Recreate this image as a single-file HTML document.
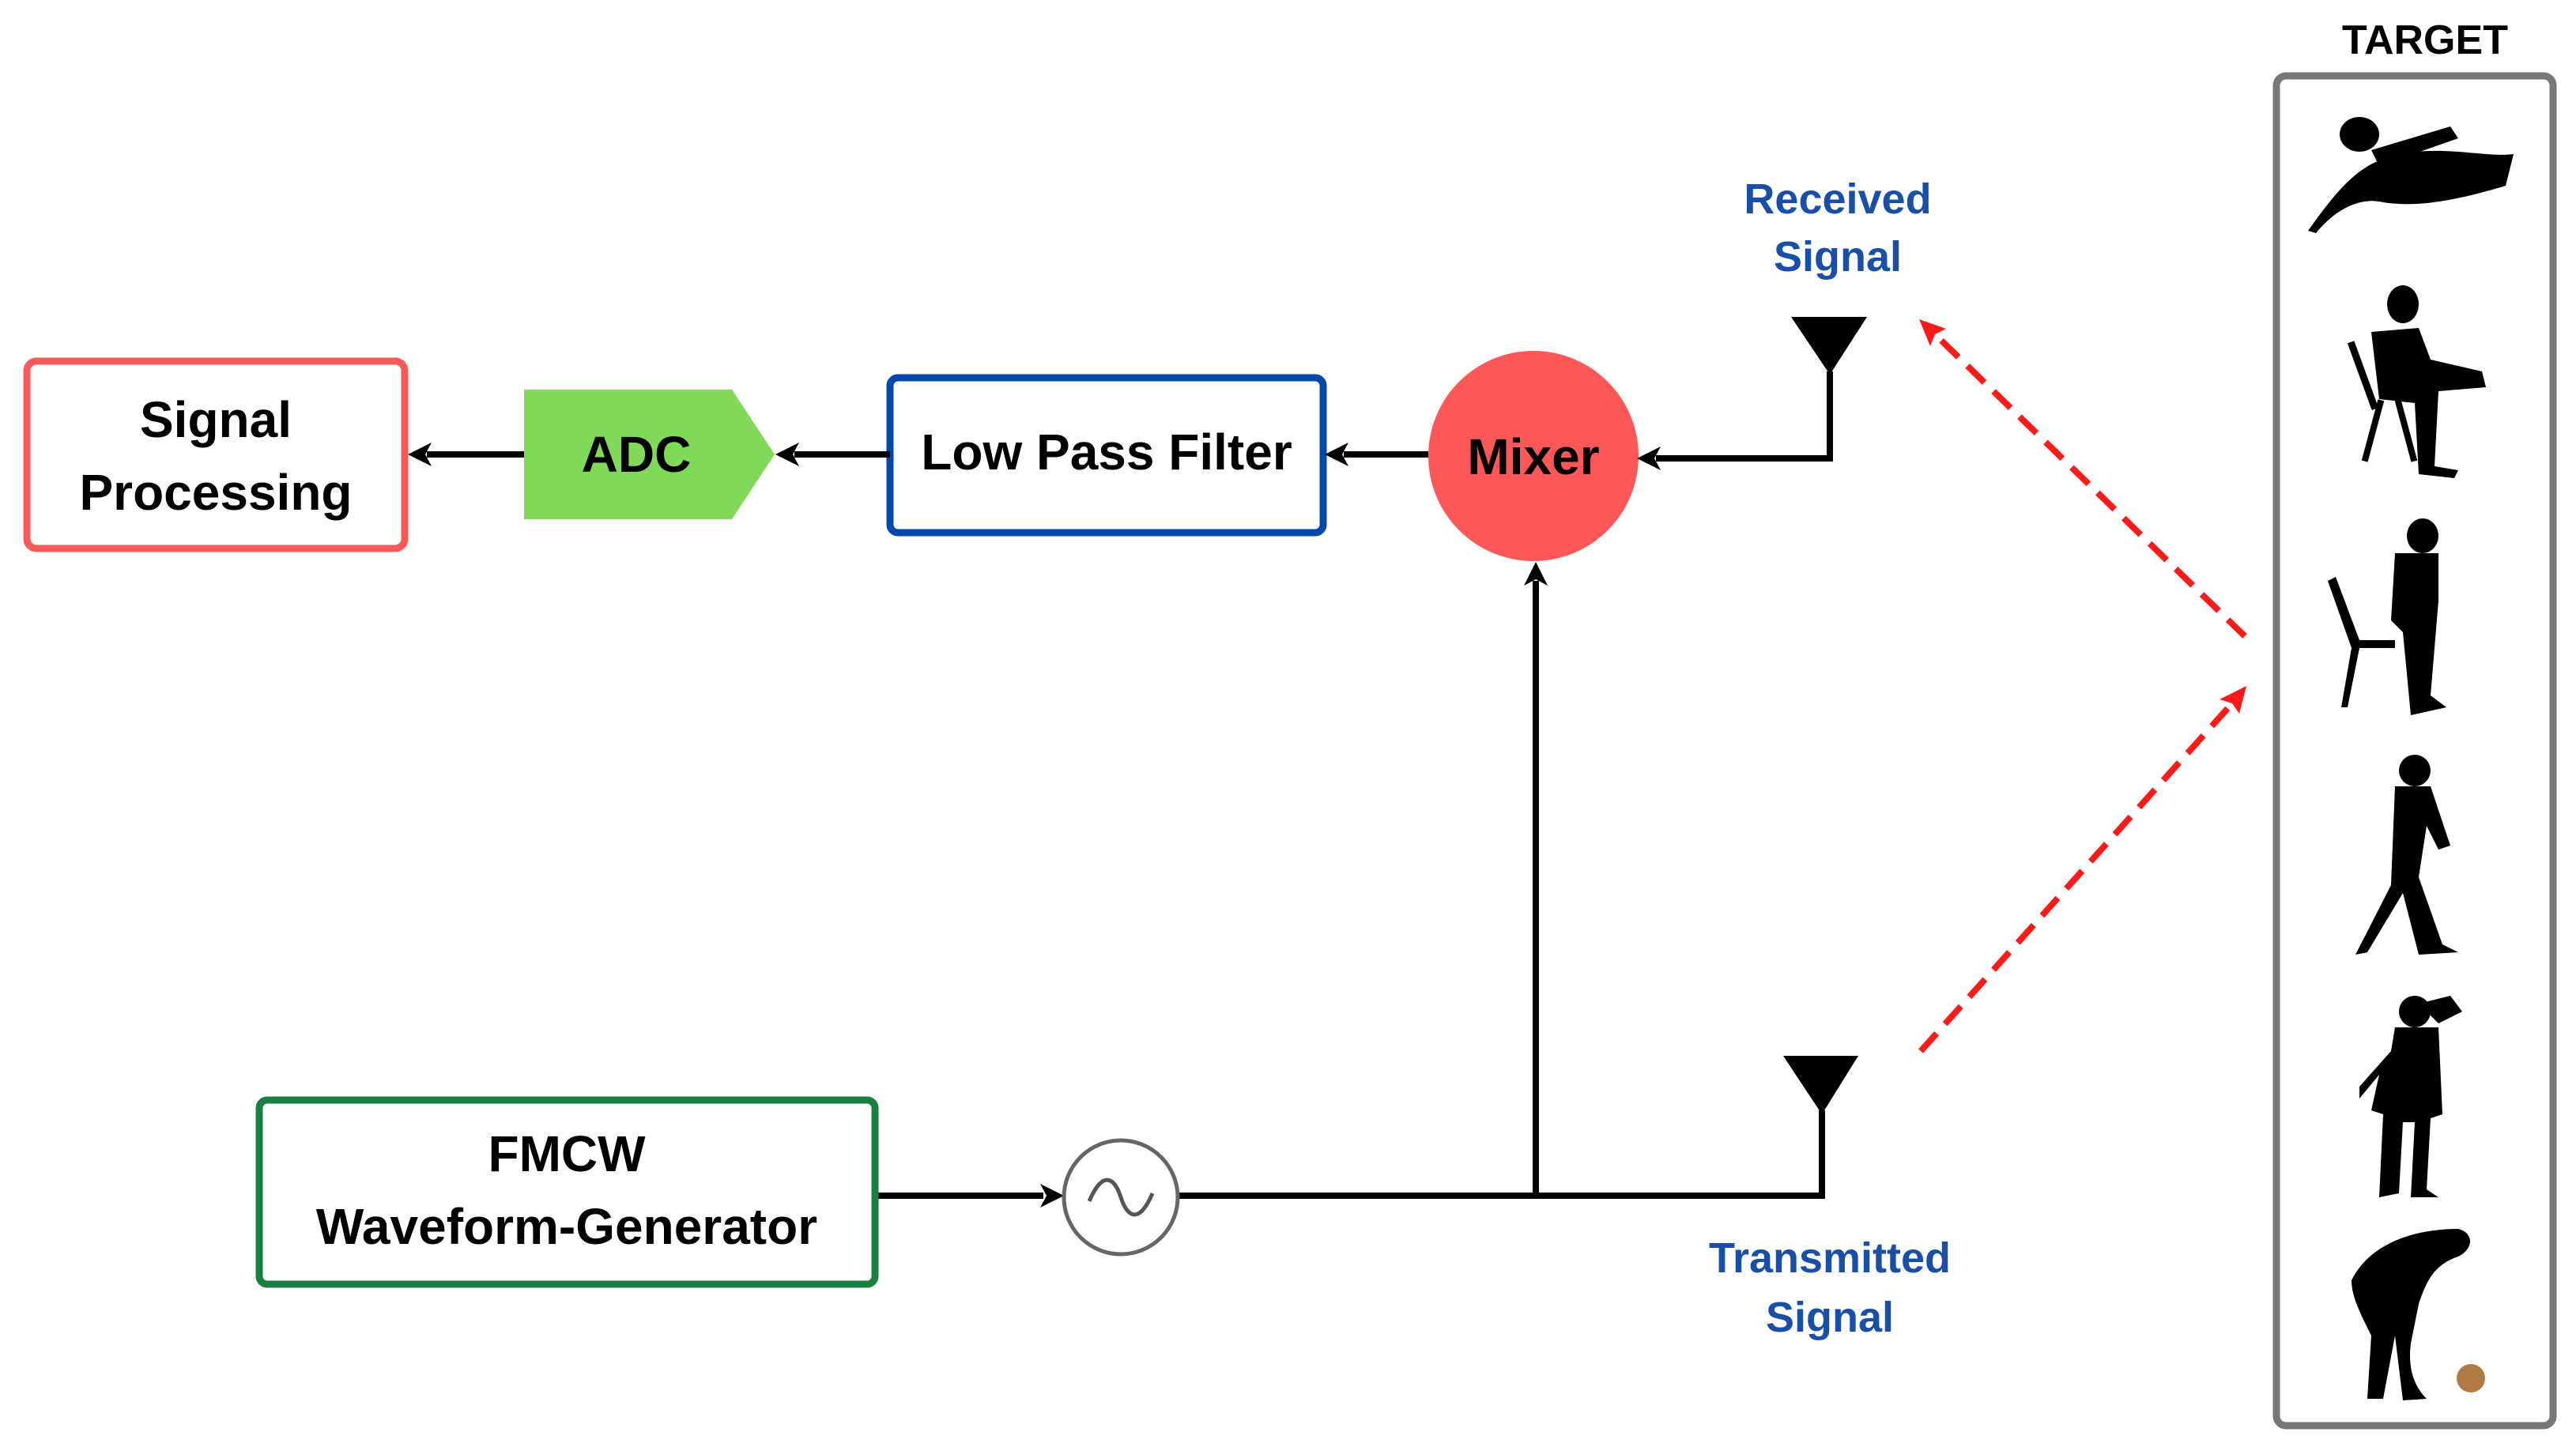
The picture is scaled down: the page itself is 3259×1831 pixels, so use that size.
<!DOCTYPE html>
<html><head><meta charset="utf-8"><style>html,body{margin:0;padding:0;background:#fff}svg{display:block}</style></head>
<body>
<svg width="3259" height="1831" viewBox="0 0 3259 1831" xmlns="http://www.w3.org/2000/svg" font-family="'Liberation Sans', sans-serif" font-weight="bold">
<!-- Signal Processing -->
<rect x="34" y="457" width="478" height="237" rx="12" fill="#fff" stroke="#f85a5a" stroke-width="9"/>
<text x="273" y="553" font-size="64" text-anchor="middle">Signal</text>
<text x="273" y="645" font-size="64" text-anchor="middle">Processing</text>
<!-- ADC -->
<polygon points="663,493 926,493 980,575 926,657 663,657" fill="#80d958"/>
<text x="805" y="597" font-size="64" text-anchor="middle">ADC</text>
<!-- LPF -->
<rect x="1126" y="478" width="548" height="196" rx="10" fill="#fff" stroke="#0047ab" stroke-width="9"/>
<text x="1400" y="594" font-size="64" text-anchor="middle">Low Pass Filter</text>
<!-- Mixer -->
<circle cx="1940" cy="577" r="133" fill="#fe5757"/>
<text x="1940" y="600" font-size="64" text-anchor="middle">Mixer</text>
<!-- connectors -->
<g stroke="#000" stroke-width="8" fill="none">
<line x1="663" y1="575" x2="540" y2="575"/>
<line x1="1126" y1="575" x2="1005" y2="575"/>
<line x1="1807" y1="575" x2="1700" y2="575"/>
<polyline points="2315,470 2315,580 2095,580"/>
<line x1="1943" y1="1513" x2="1943" y2="735"/>
<polyline points="1491,1513 2305,1513 2305,1405"/>
<line x1="1107" y1="1513" x2="1320" y2="1513"/>
</g>
<g fill="#000">
<polygon points="516,575 546,560 538,575 546,590"/>
<polygon points="981,575 1011,560 1003,575 1011,590"/>
<polygon points="1676,575 1706,560 1698,575 1706,590"/>
<polygon points="2071,580 2101,565 2093,580 2101,595"/>
<polygon points="1943,711 1928,741 1943,733 1958,741"/>
<polygon points="1346,1513 1316,1498 1324,1513 1316,1528"/>
</g>
<!-- antennas -->
<polygon points="2266,401 2362,401 2315,474" fill="#000"/>
<polygon points="2256,1336 2351,1336 2305,1410" fill="#000"/>
<!-- FMCW -->
<rect x="328" y="1392" width="779" height="233" rx="10" fill="#fff" stroke="#1a8040" stroke-width="9"/>
<text x="717" y="1482" font-size="64" text-anchor="middle">FMCW</text>
<text x="717" y="1574" font-size="64" text-anchor="middle">Waveform-Generator</text>
<!-- oscillator -->
<circle cx="1418" cy="1515" r="72" fill="#fff" stroke="#666" stroke-width="5"/>
<path d="M1378,1520 C1395,1480 1410,1490 1418,1515 C1426,1540 1441,1550 1458,1510" fill="none" stroke="#555" stroke-width="5"/>
<!-- labels -->
<g fill="#1a4fa8" font-size="54" text-anchor="middle">
<text x="2325" y="270">Received</text>
<text x="2325" y="343">Signal</text>
<text x="2315" y="1610">Transmitted</text>
<text x="2315" y="1685">Signal</text>
</g>
<!-- dashed -->
<g stroke="#ff1a1a" stroke-width="8" stroke-dasharray="30,16" fill="none">
<line x1="2840" y1="805" x2="2448" y2="423"/>
<line x1="2430" y1="1330" x2="2824" y2="890"/>
</g>
<g fill="#ff1a1a">
<polygon points="2428,404 2462,416 2448,423 2442,438"/>
<polygon points="2842,868 2833,903 2824,890 2808,885"/>
</g>
<!-- target -->
<text x="3068" y="68" font-size="52" text-anchor="middle" fill="#000">TARGET</text>
<rect x="2880" y="96" width="350" height="1708" rx="12" fill="#fff" stroke="#777" stroke-width="9"/>
<g fill="#000">
<ellipse cx="2985" cy="170" rx="25" ry="22"/>
<path d="M2920,292 C2950,250 2980,210 3020,200 C3080,180 3140,200 3180,195 L3170,235 C3120,250 3060,265 3010,255 C2980,250 2950,270 2930,295 z"/>
<path d="M3000,190 L3100,160 L3110,175 L3010,210 z"/>
<ellipse cx="3040" cy="385" rx="20" ry="24"/>
<path d="M3000,420 L3060,415 L3075,455 L3140,470 L3145,490 L3085,495 L3080,590 L3110,595 L3105,605 L3060,600 L3055,510 L3010,505 z"/>
<rect x="2985" y="430" width="9" height="90" transform="rotate(-20 2990 475)"/>
<rect x="2998" y="505" width="8" height="80" transform="rotate(15 3002 545)"/>
<rect x="3040" y="505" width="8" height="80" transform="rotate(-15 3044 545)"/>
<ellipse cx="3065" cy="678" rx="20" ry="22"/>
<path d="M3030,700 L3085,700 L3085,760 L3075,880 L3095,895 L3050,905 L3040,800 L3025,785 z"/>
<path d="M2955,730 L2985,810 L3030,810 L3030,820 L2985,820 L2970,895 L2962,895 L2975,820 L2945,735 z"/>
<ellipse cx="3055" cy="975" rx="20" ry="20"/>
<path d="M3030,995 L3075,995 L3100,1070 L3085,1075 L3070,1045 L3060,1110 L3090,1195 L3110,1205 L3060,1208 L3040,1130 L2995,1205 L2980,1208 L3025,1120 z"/>
<ellipse cx="3055" cy="1280" rx="20" ry="20"/>
<path d="M3030,1300 L3085,1300 L3090,1410 L3075,1415 L3070,1505 L3085,1515 L3050,1515 L3055,1420 L3040,1420 L3035,1510 L3010,1515 L3015,1410 L3000,1405 L3010,1360 L2985,1390 L2985,1375 L3025,1330 z"/>
<path d="M3060,1270 L3100,1260 L3115,1280 L3085,1295 z"/>
<path d="M2975,1620 C3000,1570 3060,1555 3110,1555 C3130,1560 3130,1580 3110,1590 C3080,1600 3070,1620 3060,1650 L3050,1700 C3045,1740 3060,1760 3070,1770 L3040,1772 L3030,1690 L3015,1770 L2995,1770 L3000,1690 C2985,1660 2975,1640 2975,1620 z"/>
</g>
<circle cx="3126" cy="1744" r="18" fill="#b07a45"/>
</svg>
</body></html>
